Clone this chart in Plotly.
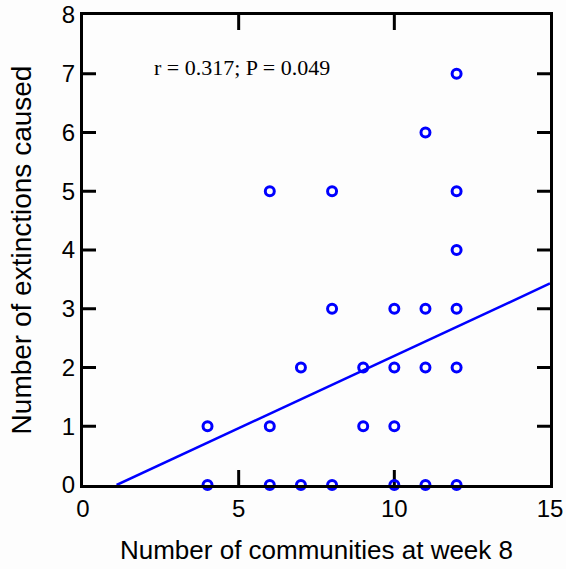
import plotly.graph_objects as go

# Data: (communities at week 8, extinctions caused)
communities = [4, 4, 6, 6, 6, 7, 7, 8, 8, 8, 9, 9, 10, 10, 10, 10,
               11, 11, 11, 11, 12, 12, 12, 12, 12, 12]
extinctions = [0, 1, 0, 1, 5, 0, 2, 0, 3, 5, 1, 2, 0, 1, 2, 3,
               0, 2, 3, 6, 0, 2, 3, 4, 5, 7]

# Regression line endpoints
fit_x = [1.08, 15]
fit_y = [0, 3.43]

x_ticks = [0, 5, 10, 15]
y_ticks = [0, 1, 2, 3, 4, 5, 6, 7, 8]
x_range = [0, 15]
y_range = [0, 8]

annotation_text = "r = 0.317; P = 0.049"

blue = "#0000FF"
bg = "#FDFDFD"
label_font = "Liberation Sans, Arial"

W, H = 566, 569
M_L, M_R, M_T, M_B = 83, 16, 15, 84
plot_w = W - M_L - M_R
plot_h = H - M_T - M_B
# tick lengths converted from pixels to data units
xtick_len = 15 * (y_range[1] - y_range[0]) / plot_h   # vertical ticks on x axes
ytick_len = 13 * (x_range[1] - x_range[0]) / plot_w   # horizontal ticks on y axes

# Build inside tick marks for all four sides from the tick lists
tx, ty = [], []
for t in x_ticks[1:-1]:
    tx += [t, t, None, t, t, None]
    ty += [y_range[0], y_range[0] + xtick_len, None,
           y_range[1] - xtick_len, y_range[1], None]
for t in y_ticks[1:-1]:
    tx += [x_range[0], x_range[0] + ytick_len, None,
           x_range[1] - ytick_len, x_range[1], None]
    ty += [t, t, None, t, t, None]

fig = go.Figure()
fig.add_trace(go.Scatter(
    x=tx, y=ty, mode="lines", line=dict(color="black", width=3),
    showlegend=False, hoverinfo="skip", connectgaps=False,
))
fig.add_trace(go.Scatter(
    x=fit_x, y=fit_y, mode="lines",
    line=dict(color=blue, width=2.5),
    showlegend=False, hoverinfo="skip",
))
fig.add_trace(go.Scatter(
    x=communities, y=extinctions, mode="markers",
    marker=dict(symbol="circle-open", size=9, color=blue,
                line=dict(color=blue, width=3)),
    showlegend=False, cliponaxis=False,
))

fig.add_annotation(
    x=5.1, y=7.1, xref="x", yref="y", text=annotation_text,
    showarrow=False, font=dict(family="Liberation Serif", size=22, color="black"),
)

fig.update_xaxes(
    range=x_range, tickvals=x_ticks, ticks="",
    showline=True, linecolor="black", linewidth=3, mirror=True,
    showgrid=False, zeroline=False,
    tickfont=dict(family=label_font, size=24, color="black"),
    title=dict(text="Number of communities at week 8", standoff=21,
               font=dict(family=label_font, size=26, color="black")),
)
fig.update_yaxes(
    range=y_range, tickvals=y_ticks, ticks="",
    showline=True, linecolor="black", linewidth=3, mirror=True,
    showgrid=False, zeroline=False,
    tickfont=dict(family=label_font, size=24, color="black"),
    title=dict(text="Number of extinctions caused", standoff=23,
               font=dict(family=label_font, size=28, color="black")),
)

fig.update_layout(
    width=W, height=H,
    margin=dict(l=M_L, r=M_R, t=M_T, b=M_B, autoexpand=False),
    plot_bgcolor=bg, paper_bgcolor=bg,
    showlegend=False,
)

fig.write_html("out.html")
